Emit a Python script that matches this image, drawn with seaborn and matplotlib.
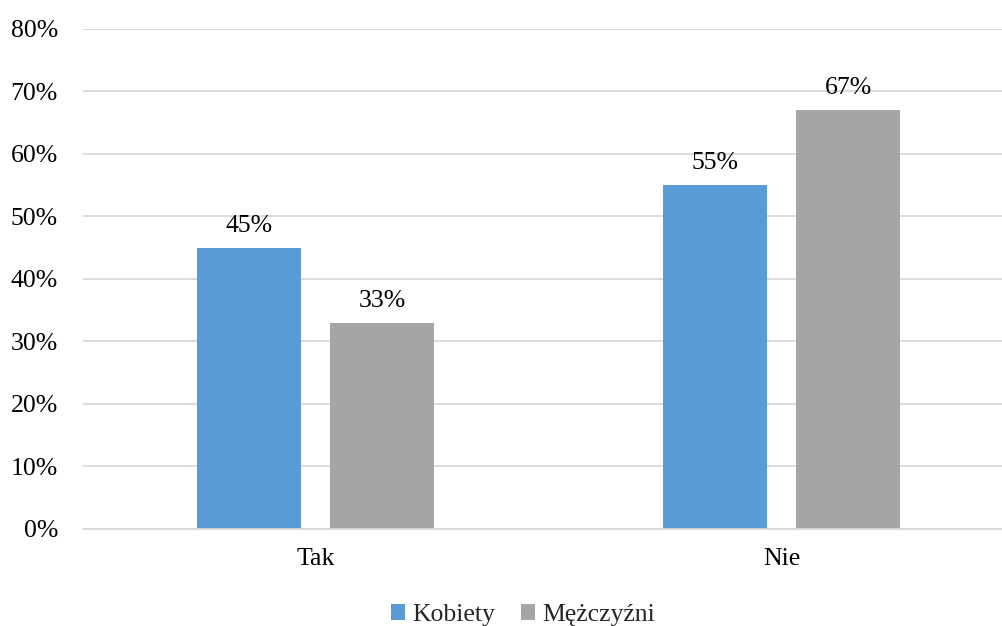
import pandas as pd
import matplotlib
matplotlib.use('Agg')
import matplotlib.pyplot as plt
import seaborn as sns
from matplotlib.ticker import PercentFormatter

# Data
answers = ['Tak', 'Nie']
kobiety = [45, 55]
mezczyzni = [33, 67]
groups = ['Kobiety', 'Mężczyźni']
colors = ['#5B9BD5', '#A5A5A5']

df = pd.DataFrame({
    'odp': answers * 2,
    'grupa': [groups[0]] * 2 + [groups[1]] * 2,
    'val': kobiety + mezczyzni,
})

sns.set_theme(style='white')
plt.rcParams['font.family'] = ['Liberation Serif', 'DejaVu Serif']
fs = 18.5

fig = plt.figure(figsize=(10.02, 6.26), dpi=100)
ax = fig.add_axes([0.0828, 0.155, 0.930, 0.7987])

sns.barplot(data=df, x='odp', y='val', hue='grupa', order=answers,
            hue_order=groups, palette=colors, width=0.571, gap=0.219,
            saturation=1, linewidth=0, ax=ax, legend=True)

for cont in ax.containers:
    ax.bar_label(cont, labels=[f'{v:.0f}%' for v in cont.datavalues],
                 padding=8, fontsize=fs, color='#000000')

ax.set_ylim(0, 80)
ax.set_xlim(-0.5, 1.5)
ax.set_yticks(range(0, 81, 10))
ax.yaxis.set_major_formatter(PercentFormatter(decimals=0))
ax.grid(axis='y', color='#D9D9D9', linewidth=1.3)
ax.set_axisbelow(True)
for s in ['top', 'right', 'left']:
    ax.spines[s].set_visible(False)
ax.spines['bottom'].set_color('#D9D9D9')
ax.spines['bottom'].set_linewidth(1.3)
ax.tick_params(axis='both', length=0, labelsize=fs, colors='#000000')
ax.tick_params(axis='y', pad=18)
ax.tick_params(axis='x', pad=14)
ax.set_xlabel('')
ax.set_ylabel('')

ax.legend(loc='lower center', ncol=2, frameon=False, fontsize=fs,
          handlelength=0.55, handleheight=0.55, handletextpad=0.3,
          columnspacing=1.0, borderpad=0, borderaxespad=0)
ax.get_legend().set_bbox_to_anchor((523 / 1002, 0.0), transform=fig.transFigure)

fig.savefig('out.png', dpi=100)
